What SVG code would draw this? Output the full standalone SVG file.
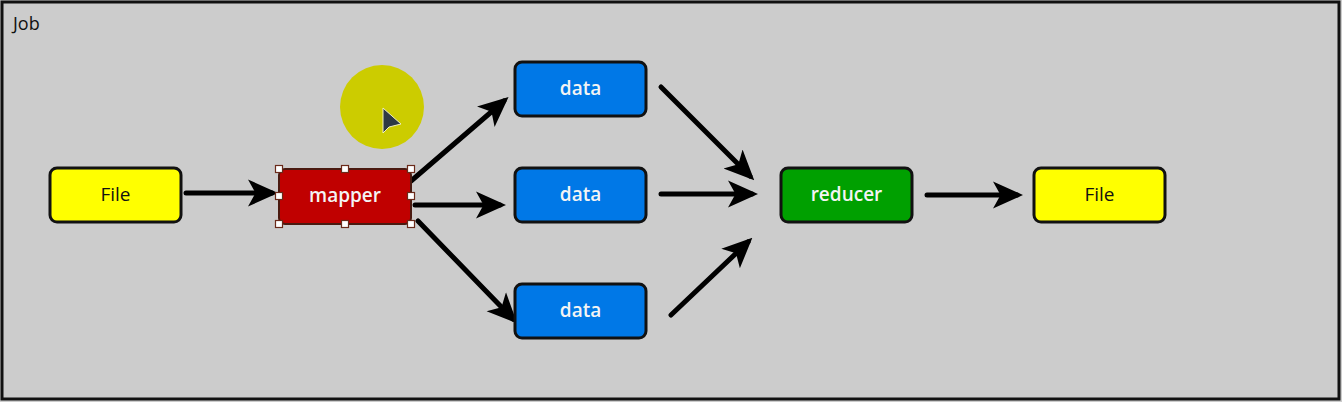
<svg xmlns="http://www.w3.org/2000/svg" width="1342" height="402" viewBox="0 0 1342 402">
<defs>
<style>
.box{stroke:#111;stroke-width:3}
.lbl{font-family:"Open Sans","Liberation Sans",sans-serif;font-size:19px;text-anchor:middle;dominant-baseline:central}
.w{fill:#f4f4f4;font-weight:600}
.k{fill:#111}
.conn{stroke:#000;stroke-width:5;stroke-linecap:round;fill:none;marker-end:url(#ah)}
.h{fill:#fff;stroke:#6a2a1a;stroke-width:1.2}
</style>
<marker id="ah" viewBox="0 0 10 10" refX="8" refY="5" markerWidth="6" markerHeight="6" orient="auto" markerUnits="strokeWidth">
<path d="M0,0.5 L10,5 L0,9.5 L2.5,5 Z" fill="#000"/>
</marker>
</defs>
<rect x="0" y="0" width="1342" height="402" fill="#cccccc"/>
<rect x="2" y="2" width="1337" height="397" fill="#cccccc" stroke="#111" stroke-width="3"/>
<text x="13" y="23" font-family="'Open Sans','Liberation Sans',sans-serif" font-size="18" fill="#111" dominant-baseline="central">Job</text>
<g id="connectors">
<line class="conn" x1="186" y1="193" x2="272" y2="193"/>
<line class="conn" x1="411" y1="181" x2="504" y2="101"/>
<line class="conn" x1="415" y1="205" x2="500" y2="205"/>
<line class="conn" x1="418" y1="221" x2="513" y2="319"/>
<line class="conn" x1="661" y1="87" x2="750" y2="176"/>
<line class="conn" x1="661" y1="194" x2="752" y2="194"/>
<line class="conn" x1="671" y1="315" x2="748" y2="242"/>
<line class="conn" x1="927" y1="195" x2="1017" y2="195"/>
</g>
<g id="file1"><rect class="box" x="50" y="168" width="131" height="54" rx="7" fill="#ffff00"/><text class="lbl k" x="115.5" y="194">File</text></g>
<g id="mapper"><rect x="279" y="169" width="132" height="55" rx="6" fill="#c00000" stroke="#4a1a10" stroke-width="2"/><text class="lbl w" x="345" y="195">mapper</text>
<rect class="h" x="275.5" y="165.5" width="7" height="7"/><rect class="h" x="341.5" y="165.5" width="7" height="7"/><rect class="h" x="407.5" y="165.5" width="7" height="7"/>
<rect class="h" x="275.5" y="192.5" width="7" height="7"/><rect class="h" x="407.5" y="192.5" width="7" height="7"/>
<rect class="h" x="275.5" y="220.5" width="7" height="7"/><rect class="h" x="341.5" y="220.5" width="7" height="7"/><rect class="h" x="407.5" y="220.5" width="7" height="7"/></g>
<g id="data1"><rect class="box" x="515" y="62" width="131" height="54" rx="7" fill="#0078e7"/><text class="lbl w" x="580.5" y="88">data</text></g>
<g id="data2"><rect class="box" x="515" y="168" width="131" height="54" rx="7" fill="#0078e7"/><text class="lbl w" x="580.5" y="194">data</text></g>
<g id="data3"><rect class="box" x="515" y="284" width="131" height="54" rx="7" fill="#0078e7"/><text class="lbl w" x="580.5" y="310">data</text></g>
<g id="reducer"><rect class="box" x="781" y="168" width="131" height="54" rx="7" fill="#00a000"/><text class="lbl w" x="846.5" y="194">reducer</text></g>
<g id="file2"><rect class="box" x="1034" y="168" width="131" height="54" rx="7" fill="#ffff00"/><text class="lbl k" x="1099.5" y="194">File</text></g>
<g id="cursor">
<circle cx="382" cy="107" r="42" fill="#cccc00"/>
<path d="M383,108 L383,133 L389,127 L401,124 Z" fill="#2e3a44" stroke="#f0f0c0" stroke-width="1"/>
</g>
</svg>
